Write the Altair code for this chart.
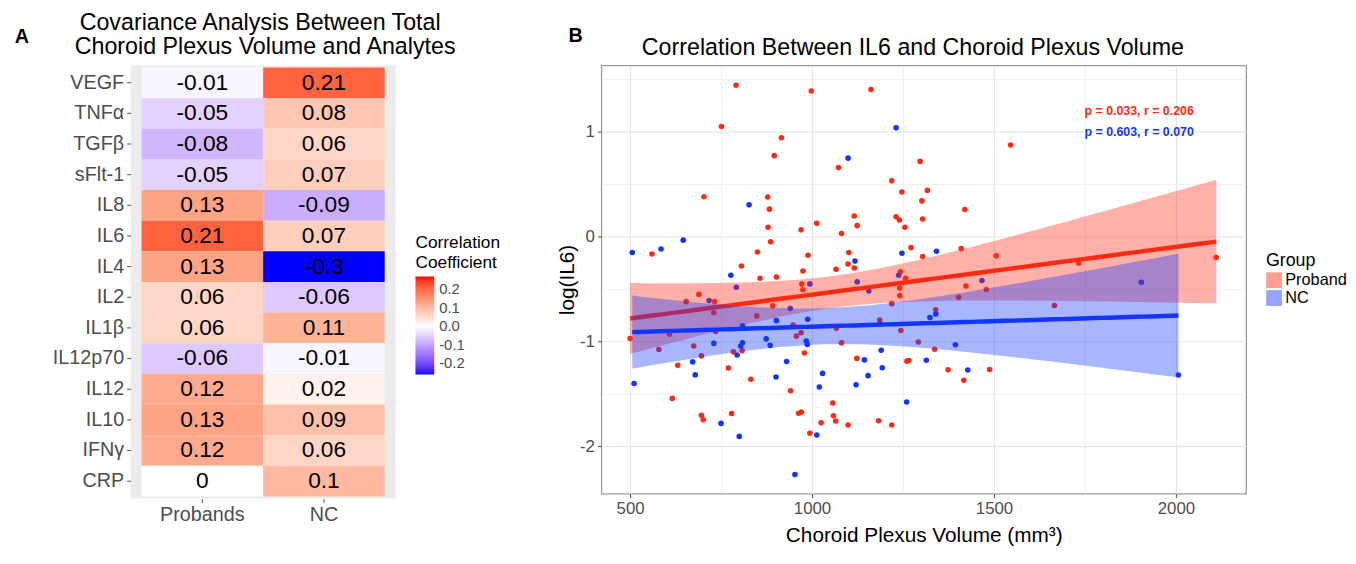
import altair as alt
import numpy as np
import pandas as pd

# ---------------- Panel A data ----------------
analytes = ["VEGF", "TNFα", "TGFβ", "sFlt-1", "IL8", "IL6", "IL4", "IL2",
            "IL1β", "IL12p70", "IL12", "IL10", "IFNγ", "CRP"]
heat_groups = ["Probands", "NC"]
r_probands = [-0.01, -0.05, -0.08, -0.05, 0.13, 0.21, 0.13, 0.06, 0.06, -0.06, 0.12, 0.13, 0.12, 0.0]
r_nc = [0.21, 0.08, 0.06, 0.07, -0.09, 0.07, -0.3, -0.06, 0.11, -0.01, 0.02, 0.09, 0.06, 0.1]
title_a = ["Covariance Analysis Between Total", "Choroid Plexus Volume and Analytes"]

# ---------------- Panel B data ----------------
proband_vol = [791, 998, 1162, 751, 916, 896, 1073, 703, 878, 883, 1219, 1247, 1297, 1302, 1304,
               1116, 1124, 1231, 1240, 1255, 1013, 970, 1081, 879, 886, 560, 850, 989, 1101, 1272,
               1304, 806, 975, 1066, 1099, 1116, 857, 902, 1243, 1257, 972, 975, 1241, 1241, 689,
               654, 732, 892, 1219, 500, 696, 784, 808, 979, 631, 1123, 1261, 1266, 770, 832,
               941, 616, 1057, 696, 701, 779, 963, 971, 1059, 1065, 1025, 1099, 1183, 1219, 994,
               1546, 1317, 1420, 1410, 1506, 1733, 2111, 1423, 1479, 1337, 1374, 1488, 1417,
               730, 608, 735, 579, 675, 948, 957, 970, 1081, 1244, 1292, 1403, 1666, 1340, 848,
               1067, 1186]
proband_il6 = [1.44, 1.386, 1.40, 1.047, 0.94, 0.77, 0.656, 0.379, 0.376, 0.26, 0.53, 0.423, 0.715,
               0.339, 0.167, 0.195, 0.103, 0.188, 0.157, 0.087, 0.125, 0.063, 0.028, 0.087, -0.05,
               -0.167, -0.148, -0.179, -0.153, -0.106, -0.191, -0.282, -0.329, -0.313, -0.263,
               -0.301, -0.398, -0.386, -0.336, -0.398, -0.454, -0.508, -0.492, -0.564, -0.552,
               -0.621, -0.621, -0.661, -0.64, -0.972, -1.138, -1.10, -1.088, -1.11, -1.228,
               -1.162, -1.188, -1.182, -1.254, -1.361, -1.47, -1.543, -1.587, -1.703, -1.747,
               -1.687, -1.684, -1.674, -1.709, -1.759, -1.775, -1.797, -1.756, -1.797, -1.875,
               0.872, 0.439, 0.257, -0.116, -0.185, -0.254, -0.2, -0.473, -0.505, -1.074, -1.27,
               -1.267, -1.371, -0.727, -0.931, -0.906, -1.077, -1.044, -0.844, -0.95, -0.917,
               -1.014, -0.896, -1.005, -0.58, -0.658, -0.699, -0.757, -0.875, -0.797]
nc_vol = [506, 585, 646, 827, 1099, 1231, 1247, 1118, 777, 1342, 809, 902, 988, 1188, 511, 730,
          809, 804, 874, 885, 984, 987, 794, 672, 930, 1144, 1190, 1314, 1340, 1324, 1394, 1428,
          2007, 679, 901, 1193, 1154, 1029, 1020, 1121, 1260, 750, 800, 1013, 953,
          792, 717, 994, 1124, 1156, 1238, 1467, 1905, 940]
nc_il6 = [-0.153, -0.119, -0.035, 0.301, 0.746, 1.035, -0.16, -0.235, -0.37, -0.141, -0.851,
          -0.802, -0.79, -0.837, -1.402, -1.019, -1.013, -1.044, -0.976, -1.038, -0.997, -1.03,
          -1.129, -1.195, -1.192, -1.176, -1.085, -1.179, -0.74, -0.773, -1.032, -1.273, -1.32,
          -1.319, -1.339, -1.251, -1.326, -1.305, -1.435, -1.414, -1.578, -1.781, -1.905,
          -1.891, -2.269, -0.484, -0.611, -0.452, -0.433, -0.52, -0.37, -0.419, -0.436, -0.687]

group_names = ["Proband", "NC"]
stats_text = ["p = 0.033, r = 0.206", "p = 0.603, r = 0.070"]
stats_x = [1899, 1899]
stats_y = [1.195, 0.997]
title_b = "Correlation Between IL6 and Choroid Plexus Volume"

FONT = "Liberation Sans"
RED = "#FF2A12"
BLUE = "#1236FF"
GREY = "#4D4D4D"


def r_label(v):
    s = "%.2f" % v
    s = s.rstrip("0").rstrip(".")
    return "0" if s in ("", "-0") else s


def t975(df):
    z = 1.959964
    g1 = (z ** 3 + z) / 4
    g2 = (5 * z ** 5 + 16 * z ** 3 + 3 * z) / 96
    g3 = (3 * z ** 7 + 19 * z ** 5 + 17 * z ** 3 - 15 * z) / 384
    return z + g1 / df + g2 / df ** 2 + g3 / df ** 3


def smooth(xs, ys, name, n=80):
    x = np.asarray(xs, float)
    y = np.asarray(ys, float)
    m = len(x)
    xm = x.mean()
    sxx = ((x - xm) ** 2).sum()
    b = ((x - xm) * (y - y.mean())).sum() / sxx
    a = y.mean() - b * xm
    s = np.sqrt(((y - a - b * x) ** 2).sum() / (m - 2))
    g = np.linspace(x.min(), x.max(), n)
    fit = a + b * g
    se = s * np.sqrt(1.0 / m + (g - xm) ** 2 / sxx)
    t = t975(m - 2)
    return pd.DataFrame({"vol": g, "fit": fit, "lo": fit - t * se, "hi": fit + t * se, "grp": name})


def label_mark(text, x, y, size, bold=False, color="black"):
    return alt.Chart(pd.DataFrame({"t": [text]})).mark_text(
        fontSize=size, fontWeight="bold" if bold else "normal", color=color,
        align="center", baseline="middle"
    ).encode(x=alt.value(x), y=alt.value(y), text="t:N")


# ---------------- Panel A ----------------
heat_df = pd.DataFrame({
    "analyte": analytes * 2,
    "group": [heat_groups[0]] * len(analytes) + [heat_groups[1]] * len(analytes),
    "r": r_probands + r_nc,
})
heat_df["label"] = heat_df["r"].map(r_label)

hx = alt.X("group:N", sort=heat_groups,
           scale=alt.Scale(paddingInner=0, paddingOuter=0.09),
           axis=alt.Axis(title=None, labelAngle=0, labelFontSize=20, labelColor=GREY,
                         tickColor=GREY, tickSize=4, domain=False, labelPadding=2,
                         grid=False))
hy = alt.Y("analyte:N", sort=analytes,
           scale=alt.Scale(paddingInner=0, paddingOuter=0.07),
           axis=alt.Axis(title=None, labelFontSize=20, labelColor=GREY, tickColor=GREY,
                         tickSize=4, domain=False, labelPadding=3, grid=False))

tiles = alt.Chart(heat_df).mark_rect().encode(
    x=hx, y=hy,
    color=alt.Color("r:Q",
                    scale=alt.Scale(domain=[-0.26, 0.27], domainMid=0,
                                    range=["#0000FF", "#FFFFFF", "#FF0000"],
                                    interpolate="lab", clamp=True),
                    legend=alt.Legend(title=["Correlation", "Coefficient"], orient="none",
                                      legendX=288, legendY=171, direction="vertical",
                                      gradientLength=99, gradientThickness=19,
                                      gradientStrokeWidth=0,
                                      values=[-0.2, -0.1, 0, 0.1, 0.2],
                                      labelExpr="datum.value == 0 ? '0.0' : '' + datum.value",
                                      labelFontSize=15, labelColor=GREY, labelOffset=5,
                                      titleFontSize=17.5, titleFontWeight="normal",
                                      titleColor="black", titleLineHeight=20,
                                      titlePadding=5)),
)
cell_text = alt.Chart(heat_df).mark_text(fontSize=23, color="black").encode(
    x=alt.X("group:N", sort=heat_groups), y=alt.Y("analyte:N", sort=analytes),
    text="label:N")

panel_a = alt.layer(
    tiles, cell_text,
    label_mark("A", -110, -29, 20, bold=True),
    label_mark(title_a[0], 131, -43, 23.5),
    label_mark(title_a[1], 136, -19, 23.5),
).properties(
    width=268, height=438,
    view=alt.ViewBackground(fill="#EBEBEB", stroke=None),
)

# ---------------- Panel B ----------------
pts = pd.DataFrame({
    "vol": proband_vol + nc_vol,
    "il6": proband_il6 + nc_il6,
    "grp": [group_names[0]] * len(proband_vol) + [group_names[1]] * len(nc_vol),
})
band_p = smooth(proband_vol, proband_il6, group_names[0])
band_n = smooth(nc_vol, nc_il6, group_names[1])
ann = pd.DataFrame({"t": stats_text, "x": stats_x, "y": stats_y, "c": [RED, BLUE]})

grp_legend = alt.Legend(title="Group", orient="none", legendX=672, legendY=189,
                        symbolType="square", symbolSize=256, symbolOpacity=0.45,
                        symbolStrokeWidth=0, labelFontSize=16.5, labelColor="black",
                        titleFontSize=18, titleFontWeight="normal", titleColor="black",
                        rowPadding=1, labelOffset=3, titlePadding=2)
cscale = alt.Scale(domain=group_names, range=[RED, BLUE])
xscale = alt.Scale(domain=[421, 2193], nice=False, zero=False)
yscale = alt.Scale(domain=[-2.45, 1.63], nice=False, zero=False)

xaxis = alt.Axis(title="Choroid Plexus Volume (mm³)", values=[500, 750, 1000, 1250, 1500, 1750, 2000],
                 labelExpr="datum.value % 500 == 0 ? '' + datum.value : ''",
                 labelFontSize=17, labelColor=GREY, tickColor=GREY, tickSize=4,
                 tickOpacity={"condition": {"test": "datum.value % 500 == 0", "value": 1}, "value": 0},
                 gridColor="#E6E6E6",
                 gridWidth={"condition": {"test": "datum.value % 500 == 0", "value": 1.1}, "value": 0.6},
                 domain=False, labelPadding=3, titleFontSize=21, titleFontWeight="normal",
                 titleColor="black", titlePadding=8)
yaxis = alt.Axis(title="log(IL6)", values=[-2, -1.5, -1, -0.5, 0, 0.5, 1, 1.5],
                 labelExpr="datum.value % 1 == 0 ? '' + datum.value : ''",
                 labelFontSize=17, labelColor=GREY, tickColor=GREY, tickSize=4,
                 tickOpacity={"condition": {"test": "datum.value % 1 == 0", "value": 1}, "value": 0},
                 gridColor="#E6E6E6",
                 gridWidth={"condition": {"test": "datum.value % 1 == 0", "value": 1.1}, "value": 0.6},
                 domain=False, labelPadding=3, titleFontSize=21, titleFontWeight="normal",
                 titleColor="black", titlePadding=2)

points = alt.Chart(pts).mark_circle(size=32, opacity=1).encode(
    x=alt.X("vol:Q", scale=xscale, axis=xaxis),
    y=alt.Y("il6:Q", scale=yscale, axis=yaxis),
    color=alt.Color("grp:N", scale=cscale, legend=grp_legend),
)


def band_layers(df):
    area = alt.Chart(df).mark_area(opacity=0.37).encode(
        x=alt.X("vol:Q", scale=xscale), y=alt.Y("lo:Q", scale=yscale), y2="hi:Q",
        color=alt.Color("grp:N", scale=cscale, legend=grp_legend))
    line = alt.Chart(df).mark_line(strokeWidth=4.5).encode(
        x=alt.X("vol:Q", scale=xscale), y=alt.Y("fit:Q", scale=yscale),
        color=alt.Color("grp:N", scale=cscale, legend=grp_legend))
    return [area, line]


stats = alt.Chart(ann).mark_text(fontSize=12.5, fontWeight="bold", align="center",
                                 baseline="middle").encode(
    x=alt.X("x:Q", scale=xscale), y=alt.Y("y:Q", scale=yscale), text="t:N",
    color=alt.Color("c:N", scale=None, legend=None))

panel_b = alt.layer(
    points, *band_layers(band_p), *band_layers(band_n), stats,
    label_mark("B", -26, -30, 20, bold=True),
    label_mark(title_b, 315, -17, 23.5),
).properties(
    width=652, height=433,
    view=alt.ViewBackground(fill="white", stroke="#9A9A9A", strokeWidth=1.3),
)

chart = alt.hconcat(panel_a, panel_b, spacing=208, bounds="flush").resolve_scale(
    color="independent"
).configure(
    font=FONT, padding={"left": 6, "top": 0, "right": 0, "bottom": 0}
)

chart.save("out.html", embed_options={"renderer": "svg", "actions": False})
